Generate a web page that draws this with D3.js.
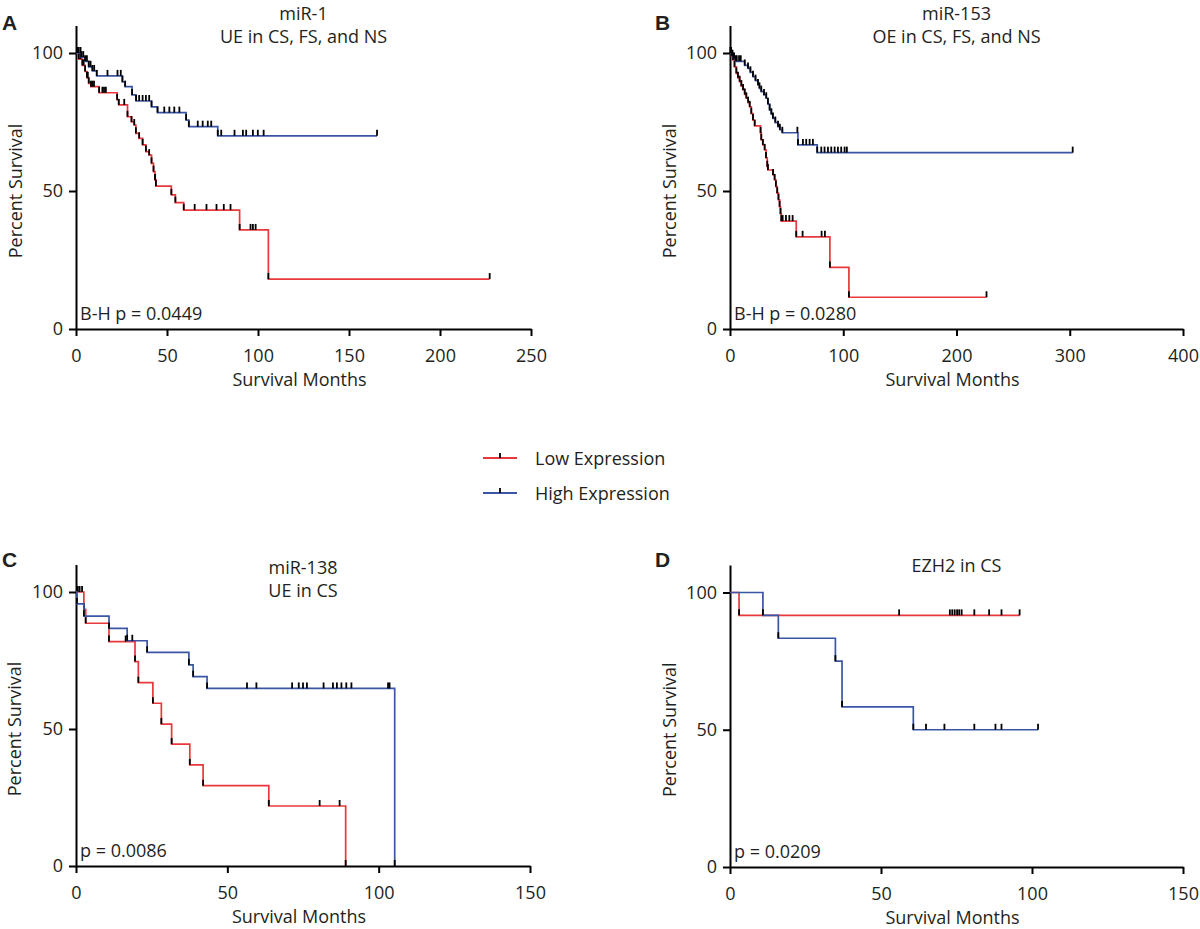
<!DOCTYPE html>
<html>

<head>
	<title>Kaplan-Meier survival</title>
	<meta charset="utf-8" />
	<script src="https://cdnjs.cloudflare.com/ajax/libs/d3/7.8.5/d3.min.js" charset="utf-8"></script>
</head>

<style>
	body {
		margin: 0;
		background: white;
	}

	text {
		font-family: 'Open Sans', sans-serif;
		fill: #231f20;
	}

	.axis path,
	.axis line {
		stroke: black;
		stroke-width: 2px;
	}

	.axis text {
		font-size: 18px;
		fill: #231f20;
	}

	.letter {
		font-family: 'Liberation Sans', Arial, sans-serif;
		font-weight: bold;
		font-size: 21px;
	}

	.label {
		font-size: 18px;
	}
</style>

<body>
	<script type="text/javascript">
		// Step points [month, percent] and censor times.
		// Panel A - miR-1
		const aLowSteps = [[0, 100], [1.5, 97.8], [3.5, 95.5], [5, 93.3], [6, 91], [7, 89], [8.2, 87.8], [12.7, 85.6],
			[22.6, 83], [23.5, 81.2], [28.3, 76.9], [30.5, 75], [32, 73.9], [32.9, 70.9], [34.7, 69.1], [36.6, 66.7],
			[38.4, 64.3], [40.2, 63], [41.5, 60], [42.6, 57], [43.4, 54], [43.9, 51.8], [52.4, 48.6], [54.6, 45.8],
			[59.2, 43.1], [89.9, 35.9], [105.7, 18.1]];
		const aLowCensor = [0.5, 1, 2.5, 4.2, 6.5, 9, 9.9, 14.5, 15.4, 16.4, 26.5, 43.5, 65.2, 71.7, 77.2, 81.2, 84.9,
			95.9, 97.2, 98.7, 227.3];
		const aHighSteps = [[0, 100], [3, 98.5], [5, 97], [7, 95], [9, 93.5], [11.4, 91.7], [25.5, 89.5], [27, 87.8],
			[30.8, 84.8], [33, 82.6], [41.5, 80.5], [44.8, 78.4], [60.5, 75.7], [62, 73.3], [77.9, 70]];
		const aHighCensor = [0.5, 1.5, 2.5, 4, 6, 8, 10, 17.3, 22.8, 24.6, 34.7, 36.6, 38.4, 40.2, 48.5, 51.3, 54, 56.8,
			66.9, 69.6, 72.4, 74.3, 79.8, 87.1, 91.7, 93.5, 97.2, 99.9, 103.1, 165.4];

		// Panel B - miR-153
		const bLowSteps = [[0, 100], [1.2, 98.8], [2.6, 97.5], [4, 95], [5.6, 92.6], [7, 91], [8.5, 89.6], [10, 88],
			[11.5, 86.6], [13, 85], [14.4, 83.6], [16, 82], [17.4, 80.5], [18.8, 78], [20.3, 75.7], [21.8, 73.6],
			[27, 71], [27.6, 68.5], [29, 66.7], [30.6, 64.9], [31.8, 62], [32.9, 58.8], [33.5, 57.6], [38, 55.8],
			[39.4, 54], [40.5, 51.6], [41.7, 49.2], [42.8, 46.8], [43.8, 44.3], [44.6, 41.7], [45.3, 39.1],
			[58.5, 33.4], [88.2, 22.3], [105, 11.5]];
		const bLowCensor = [0.5, 1.8, 3.2, 46.5, 49.4, 52.4, 55.3, 64.1, 80.9, 83.8, 226.5];
		const bHighSteps = [[0, 100], [1.5, 99], [3, 98], [5, 97], [13, 95.5], [15.9, 94.4], [18, 93], [20.3, 91.4],
			[22.5, 90], [24.7, 88.4], [26, 87.2], [27.6, 86], [30, 84.8], [32, 83.6], [33.5, 81.5], [35, 79.3],
			[36.5, 77.8], [37.9, 76.3], [40, 74.8], [42.4, 73.3], [44, 72.2], [46.2, 71.1], [60, 66.7], [77, 63.9]];
		const bHighCensor = [0.5, 1, 2.2, 3.6, 6, 8, 9.5, 59.5, 64.4, 67.3, 70.3, 73.2, 80.6, 83.5, 86.5, 89.4, 92.4,
			95.3, 98.2, 101.2, 103.2, 302.6];

		// Panel C - miR-138
		const cLowSteps = [[0, 100], [2.6, 93.7], [3.2, 88.6], [10.9, 81.9], [19.5, 74.6], [20.6, 66.9], [25.4, 59.4],
			[28.2, 51.8], [31.6, 44.5], [37.6, 36.9], [42, 29.3], [63.7, 21.9], [89.1, 0]];
		const cLowCensor = [0.6, 1.2, 2, 16.4, 80.5, 87.1];
		const cHighSteps = [[0, 100], [0.3, 95.7], [2.6, 91.2], [10.9, 86.7], [16.9, 82.2], [23.5, 78], [37.3, 73.4],
			[38.7, 69.1], [43.3, 64.8], [105.3, 0]];
		const cHighCensor = [18.6, 56.5, 59.6, 71.4, 73.6, 75, 76.3, 81.8, 84.9, 86.2, 87.7, 89.3, 91, 103.1, 103.6];

		// Panel D - EZH2
		const dLowSteps = [[0, 100], [3, 91.67]];
		const dLowCensor = [56, 72.8, 73.6, 74.4, 75.2, 75.9, 76.7, 80.9, 85.8, 89.9, 95.9];
		const dHighSteps = [[0, 100], [10.9, 91.67], [16, 83.33], [34.9, 75], [37.1, 58.33], [60.7, 50]];
		const dHighCensor = [64.9, 71, 80.9, 87.9, 89.9, 102];

		// Axis ticks
		const yTicks = [0, 50, 100];
		const aXTicks = [0, 50, 100, 150, 200, 250];
		const bXTicks = [0, 100, 200, 300, 400];
		const cdXTicks = [0, 50, 100, 150];

		const legendLabels = ["Low Expression", "High Expression"];

		const red = "#e8383d";
		const blue = "#3b55a5";

		const w = 1200;
		const h = 929;

		const svg = d3.select("body")
			.append("svg")
			.attr("width", w)
			.attr("height", h);

		// Survival value of a step curve at time t.
		function survAt(steps, t) {
			let s = steps[0][1];
			steps.forEach(p => {
				if (p[0] <= t) s = p[1];
			});
			return s;
		}

		function drawPanel(p) {
			const xScale = d3.scaleLinear()
				.domain([0, p.xTicks[p.xTicks.length - 1]])
				.range([p.left, p.right]);

			// 100 % sits at p.y100, the axis line runs on up to 110.
			const yTop = p.y0 - (p.y0 - p.y100) * 1.1;
			const yScale = d3.scaleLinear()
				.domain([0, 110])
				.range([p.y0, yTop]);

			svg.append("g")
				.attr("class", "axis")
				.attr("transform", "translate(0, " + p.y0 + ")")
				.call(d3.axisBottom(xScale).tickValues(p.xTicks).tickSize(7).tickPadding(13).tickSizeOuter(0));

			svg.append("g")
				.attr("class", "axis")
				.attr("transform", "translate(" + p.left + ", 0)")
				.call(d3.axisLeft(yScale).tickValues(yTicks).tickSize(7).tickPadding(6).tickSizeOuter(0));

			p.series.forEach(sr => {
				const end = Math.max(sr.steps[sr.steps.length - 1][0], d3.max(sr.censor));
				const pts = sr.steps.concat([[end, sr.steps[sr.steps.length - 1][1]]]);

				svg.append("path")
					.datum(pts)
					.attr("fill", "none")
					.attr("stroke", sr.color)
					.attr("stroke-width", 1.7)
					.attr("d", d3.line()
						.curve(d3.curveStepAfter)
						.x(d => xScale(d[0]))
						.y(d => yScale(d[1])));

				// Tick marks at every event and censored case.
				const marks = sr.steps.slice(1).map(d => [d[0], d[1]])
					.concat(sr.censor.map(t => [t, survAt(sr.steps, t)]));

				svg.append("g")
					.selectAll("line")
					.data(marks)
					.enter()
					.append("line")
					.attr("x1", d => xScale(d[0]))
					.attr("x2", d => xScale(d[0]))
					.attr("y1", d => yScale(d[1]))
					.attr("y2", d => yScale(d[1]) - 6)
					.attr("stroke", "black")
					.attr("stroke-width", 1.8);
			});

			// Panel letter and title lines
			svg.append("text")
				.attr("class", "letter")
				.attr("x", p.letterX)
				.attr("y", p.letterY)
				.text(p.letter);

			p.title.forEach((t, i) => {
				svg.append("text")
					.attr("class", "label")
					.attr("x", (p.left + p.right) / 2)
					.attr("y", p.titleY + i * 23)
					.style("text-anchor", "middle")
					.text(t);
			});

			svg.append("text")
				.attr("class", "label")
				.attr("x", (p.left + p.right) / 2 - 4)
				.attr("y", p.y0 + 57)
				.style("text-anchor", "middle")
				.text("Survival Months");

			svg.append("text")
				.attr("class", "label")
				.attr("transform", "translate(" + p.ylabX + "," + (p.y0 + p.y100) / 2 + ") rotate(-90)")
				.style("text-anchor", "middle")
				.text("Percent Survival");

			svg.append("text")
				.attr("class", "label")
				.attr("x", p.left + 4)
				.attr("y", p.y0 - 9)
				.text(p.pval);
		}

		drawPanel({
			letter: "A", letterX: 2, letterY: 30,
			title: ["miR-1", "UE in CS, FS, and NS"], titleY: 20,
			left: 76, right: 531, y0: 329, y100: 53, ylabX: 22,
			xTicks: aXTicks, pval: "B-H p = 0.0449",
			series: [
				{ steps: aLowSteps, censor: aLowCensor, color: red },
				{ steps: aHighSteps, censor: aHighCensor, color: blue }
			]
		});

		drawPanel({
			letter: "B", letterX: 655, letterY: 30,
			title: ["miR-153", "OE in CS, FS, and NS"], titleY: 20,
			left: 730, right: 1183, y0: 329, y100: 53, ylabX: 676,
			xTicks: bXTicks, pval: "B-H p = 0.0280",
			series: [
				{ steps: bLowSteps, censor: bLowCensor, color: red },
				{ steps: bHighSteps, censor: bHighCensor, color: blue }
			]
		});

		drawPanel({
			letter: "C", letterX: 2, letterY: 567,
			title: ["miR-138", "UE in CS"], titleY: 574,
			left: 76, right: 530, y0: 866, y100: 592, ylabX: 21,
			xTicks: cdXTicks, pval: "p = 0.0086",
			series: [
				{ steps: cLowSteps, censor: cLowCensor, color: red },
				{ steps: cHighSteps, censor: cHighCensor, color: blue }
			]
		});

		drawPanel({
			letter: "D", letterX: 655, letterY: 567,
			title: ["EZH2 in CS"], titleY: 572,
			left: 730, right: 1183, y0: 867, y100: 592.5, ylabX: 676,
			xTicks: cdXTicks, pval: "p = 0.0209",
			series: [
				{ steps: dLowSteps, censor: dLowCensor, color: red },
				{ steps: dHighSteps, censor: dHighCensor, color: blue }
			]
		});

		// Legend
		const legend = svg.append("g");
		[red, blue].forEach((c, i) => {
			const ly = 458 + i * 35;
			legend.append("line")
				.attr("x1", 483).attr("x2", 517)
				.attr("y1", ly).attr("y2", ly)
				.attr("stroke", c)
				.attr("stroke-width", 2);
			legend.append("line")
				.attr("x1", 500).attr("x2", 500)
				.attr("y1", ly).attr("y2", ly - 5)
				.attr("stroke", "black")
				.attr("stroke-width", 1.8);
			legend.append("text")
				.attr("class", "label")
				.attr("x", 535)
				.attr("y", ly + 7)
				.text(legendLabels[i]);
		});
	</script>
</body>

</html>
